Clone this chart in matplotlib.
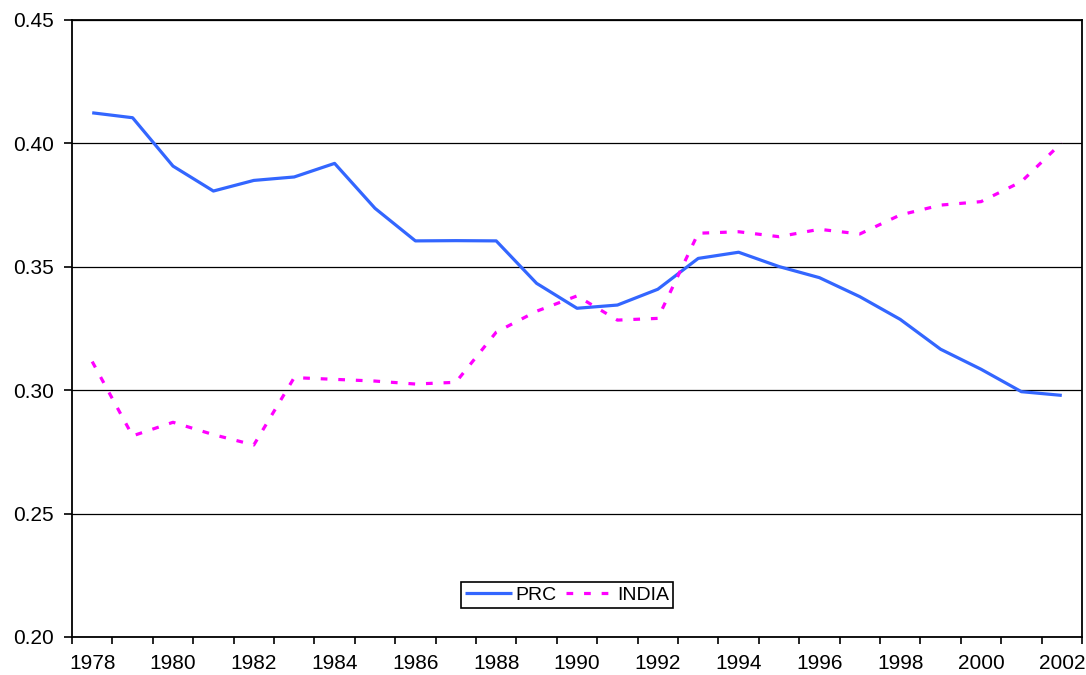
import numpy as np
import matplotlib.pyplot as plt
from matplotlib.ticker import FixedLocator, NullFormatter

plt.rcParams['font.family'] = ['Liberation Sans', 'DejaVu Sans']

years = list(range(1978, 2003))
prc = [0.4124, 0.4104, 0.3908, 0.3807, 0.3850, 0.3864, 0.3919, 0.3737,
       0.3605, 0.3606, 0.3605, 0.3433, 0.3332, 0.3345, 0.3409, 0.3534,
       0.3559, 0.3501, 0.3456, 0.3379, 0.3287, 0.3166, 0.3085, 0.2994,
       0.2979]
india = [0.3116, 0.2815, 0.2870, 0.2820, 0.2778, 0.3051, 0.3044, 0.3037,
         0.3025, 0.3032, 0.3235, 0.3320, 0.3382, 0.3284, 0.3291, 0.3636,
         0.3642, 0.3622, 0.3652, 0.3633, 0.3710, 0.3750, 0.3764, 0.3845,
         0.4003]
y_ticks = [0.20, 0.25, 0.30, 0.35, 0.40, 0.45]

fig = plt.figure(figsize=(10.86, 6.75), dpi=100)
ax = fig.add_axes([72/1086, 1 - 637/675, (1082 - 72)/1086, (637 - 20)/675])

x = np.arange(len(years))
ax.plot(x, prc, color='#3366FF', lw=2.3, label='PRC', solid_capstyle='butt')
ax.plot(x, india, color='#FF00FF', lw=2.3, dashes=(2.1, 3.4), label='INDIA')

ax.set_xlim(-0.5, len(years) - 0.5)
ax.set_ylim(0.20, 0.45)

# tick marks sit between categories, labels on every other year
ax.xaxis.set_major_locator(FixedLocator(np.arange(-0.5, len(years), 1.0)))
ax.xaxis.set_major_formatter(NullFormatter())
ax.xaxis.set_minor_locator(FixedLocator(x[::2]))
ax.set_xticklabels([str(y) for y in years[::2]], minor=True)
ax.tick_params(axis='x', which='major', length=5, width=1.2, direction='out')
ax.tick_params(axis='x', which='minor', length=0, pad=12, labelsize=15)

ax.set_yticks(y_ticks)
ax.set_yticklabels(['%.2f' % v for v in y_ticks])
ax.tick_params(axis='y', length=6, width=1.2, direction='out', labelsize=15, pad=7)

ax.grid(axis='y', color='black', lw=0.9)
ax.set_axisbelow(True)
for s in ax.spines.values():
    s.set_linewidth(1.3)

leg = ax.legend(loc='center', bbox_to_anchor=(0.49, 0.068), ncol=2, fontsize=14,
                frameon=True, fancybox=False, edgecolor='black', framealpha=1,
                handlelength=2.4, handletextpad=0.2, columnspacing=0.5,
                borderpad=0.2, borderaxespad=0)
leg.get_frame().set_linewidth(1.2)

fig.savefig('out.png', dpi=100)
